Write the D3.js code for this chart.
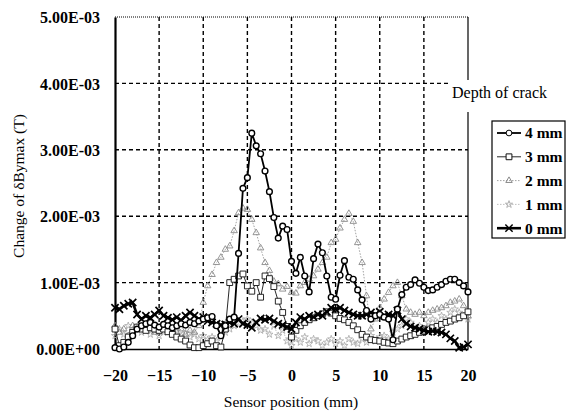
<!DOCTYPE html>
<html>
<head>
<meta charset="utf-8">
<script src="https://cdn.jsdelivr.net/npm/d3@7"></script>
<style>
  html, body { margin: 0; padding: 0; background: #fff; }
  svg { display: block; }
  text { font-family: "Liberation Serif", "DejaVu Serif", serif; fill: #000; }
</style>
</head>
<body>
<svg id="chart" width="566" height="417"></svg>
<script>
// Sensor positions, 0.5 mm steps from -20 to 20
const positions = d3.range(-20, 20.001, 0.5);

// Change of dBymax (units of 1E-3 T) for each crack depth
const depth4mm = [0.02,0.00,0.03,0.10,0.20,0.30,0.35,0.38,0.40,0.36,0.33,0.37,0.35,0.32,0.35,0.38,0.36,0.40,0.38,0.42,
  0.45,0.47,0.49,0.35,0.20,0.35,0.45,0.48,1.44,2.42,2.58,3.25,3.06,2.94,2.68,2.37,1.98,1.67,1.85,1.80,
  1.32,1.14,1.38,1.10,0.86,1.36,1.58,1.45,1.10,0.78,0.75,1.11,1.33,1.08,1.05,0.89,0.74,0.58,0.45,0.50,
  0.52,0.48,0.45,0.14,0.60,0.82,0.93,0.97,1.04,0.99,0.93,0.88,0.89,0.93,0.97,1.02,1.05,1.05,1.00,0.95,0.86];
const depth3mm = [0.30,0.05,0.10,0.18,0.25,0.33,0.30,0.28,0.32,0.30,0.28,0.30,0.26,0.22,0.18,0.15,0.12,0.06,0.02,0.02,
  0.05,0.08,0.12,0.05,0.03,0.30,1.00,1.05,1.10,1.13,0.95,0.87,1.00,0.78,1.10,1.06,0.94,0.72,0.55,0.34,
  0.18,0.28,0.35,0.40,0.44,0.47,0.50,0.53,0.56,0.54,0.50,0.46,0.44,0.40,0.35,0.29,0.22,0.18,0.14,0.13,
  0.12,0.10,0.09,0.08,0.12,0.15,0.18,0.20,0.22,0.25,0.27,0.30,0.32,0.34,0.37,0.40,0.42,0.45,0.47,0.50,0.56];
const depth2mm = [0.35,0.25,0.30,0.20,0.35,0.30,0.40,0.30,0.35,0.25,0.30,0.35,0.28,0.30,0.25,0.30,0.22,0.28,0.25,0.35,
  0.70,0.95,1.12,1.30,1.38,1.50,1.55,1.78,2.05,2.12,2.10,1.95,1.75,1.52,1.30,1.18,1.02,0.98,0.90,0.94,
  0.85,0.84,0.95,1.00,1.05,1.10,1.20,1.30,1.38,1.60,1.65,1.82,1.95,2.04,1.92,1.60,1.30,0.80,0.30,0.45,
  0.62,0.75,0.85,0.95,1.00,0.80,0.60,0.55,0.52,0.55,0.50,0.55,0.58,0.60,0.62,0.65,0.70,0.72,0.75,0.65,0.50];
const depth1mm = [0.20,0.30,0.22,0.35,0.28,0.33,0.25,0.30,0.22,0.28,0.20,0.25,0.30,0.22,0.27,0.20,0.24,0.18,0.22,0.15,
  0.20,0.14,0.18,0.12,0.20,0.25,0.30,0.35,0.38,0.42,0.45,0.40,0.35,0.28,0.30,0.22,0.35,0.20,0.28,0.12,
  0.05,0.15,0.10,0.18,0.08,0.15,0.12,0.05,0.10,0.15,0.08,0.12,0.05,0.15,0.10,0.08,0.15,0.10,0.20,0.12,
  0.18,0.20,0.15,0.25,0.30,0.35,0.45,0.40,0.30,0.35,0.30,0.40,0.45,0.40,0.50,0.45,0.55,0.60,0.55,0.50,0.45];
const depth0mm = [0.62,0.60,0.65,0.68,0.70,0.52,0.45,0.50,0.47,0.52,0.58,0.50,0.47,0.44,0.48,0.43,0.50,0.55,0.50,0.45,
  0.48,0.42,0.40,0.38,0.36,0.37,0.40,0.38,0.45,0.38,0.36,0.32,0.40,0.46,0.44,0.46,0.42,0.38,0.36,0.33,
  0.30,0.40,0.48,0.45,0.50,0.48,0.52,0.50,0.56,0.62,0.60,0.62,0.58,0.55,0.52,0.50,0.50,0.52,0.55,0.52,
  0.56,0.50,0.52,0.50,0.58,0.45,0.38,0.34,0.32,0.30,0.28,0.26,0.27,0.26,0.25,0.22,0.16,0.12,0.02,0.03,0.07];

const seriesNames = ["4 mm", "3 mm", "2 mm", "1 mm", "0 mm"];
const xTicks = [-20, -15, -10, -5, 0, 5, 10, 15, 20];
const yTicks = [0, 1, 2, 3, 4, 5];
const yTickLabels = ["0.00E+00", "1.00E-03", "2.00E-03", "3.00E-03", "4.00E-03", "5.00E-03"];

const series = [
  { name: seriesNames[0], values: depth4mm, color: "#000", width: 1.8, dash: null, marker: "circle" },
  { name: seriesNames[1], values: depth3mm, color: "#111", width: 0.9, dash: null, marker: "square" },
  { name: seriesNames[2], values: depth2mm, color: "#8a8a8a", width: 0.8, dash: "1.5,1.5", marker: "triangle" },
  { name: seriesNames[3], values: depth1mm, color: "#b0b0b0", width: 0.8, dash: "1.5,1.5", marker: "star" },
  { name: seriesNames[4], values: depth0mm, color: "#000", width: 2.6, dash: null, marker: "cross" }
];

const svg = d3.select("#chart");
const plot = { left: 115, right: 468, top: 17, bottom: 349 };

const x = d3.scaleLinear().domain([-20, 20]).range([plot.left, plot.right]);
const y = d3.scaleLinear().domain([0, 5]).range([plot.bottom, plot.top]);

// grid lines
const grid = svg.append("g");
grid.selectAll("line.v").data(xTicks.slice(1, -1)).enter().append("line")
  .attr("x1", d => x(d)).attr("x2", d => x(d))
  .attr("y1", plot.top).attr("y2", plot.bottom)
  .attr("stroke", "#000").attr("stroke-width", 1.4).attr("stroke-dasharray", "4,3");
grid.selectAll("line.h").data(yTicks.slice(1, -1)).enter().append("line")
  .attr("x1", plot.left).attr("x2", plot.right)
  .attr("y1", d => y(d)).attr("y2", d => y(d))
  .attr("stroke", "#000").attr("stroke-width", 1.4).attr("stroke-dasharray", "4,3");

// frame: dotted top, thin right, heavy left and bottom axes
svg.append("line").attr("x1", plot.left).attr("x2", plot.right).attr("y1", plot.top).attr("y2", plot.top)
  .attr("stroke", "#000").attr("stroke-width", 1).attr("stroke-dasharray", "1,1");
svg.append("line").attr("x1", plot.right).attr("x2", plot.right).attr("y1", plot.top).attr("y2", plot.bottom)
  .attr("stroke", "#000").attr("stroke-width", 1.2);

// y axis
const yAxis = d3.axisLeft(y).tickValues(yTicks).tickSize(0).tickPadding(15)
  .tickFormat((d, i) => yTickLabels[i]);
const gy = svg.append("g").attr("transform", `translate(${plot.left},0)`).call(yAxis);
gy.attr("font-family", null);
gy.select(".domain").attr("stroke", "#000").attr("stroke-width", 2.2);
gy.selectAll("text").style("font-family", "'Liberation Serif', serif").style("font-size", "16px")
  .style("font-weight", "bold").attr("dy", "0.35em");

// x axis
const xAxis = d3.axisBottom(x).tickValues(xTicks).tickSize(0).tickPadding(21);
const gx = svg.append("g").attr("transform", `translate(0,${plot.bottom})`).call(xAxis);
gx.attr("font-family", null);
gx.select(".domain").attr("stroke", "#000").attr("stroke-width", 1.6);
gx.selectAll("text").style("font-family", "'Liberation Serif', serif").style("font-size", "16px")
  .style("font-weight", "bold");

// marker shapes
const symbolFor = {
  circle: d3.symbol().type(d3.symbolCircle).size(26),
  square: d3.symbol().type(d3.symbolSquare).size(34),
  triangle: d3.symbol().type(d3.symbolTriangle).size(18),
  star: d3.symbol().type(d3.symbolStar).size(16),
  cross: d3.symbol().type(d3.symbolX).size(36)
};

const line = d3.line().x(d => x(d[0])).y(d => y(d[1]));

// draw light series first so darker ones sit on top
const drawOrder = [3, 2, 1, 4, 0];
drawOrder.forEach(si => {
  const s = series[si];
  const pts = positions.map((p, i) => [p, s.values[i]]);
  const g = svg.append("g");
  g.append("path").datum(pts).attr("d", line).attr("fill", "none")
    .attr("stroke", s.color).attr("stroke-width", s.width)
    .attr("stroke-dasharray", s.dash);
  const open = s.marker === "circle" || s.marker === "square";
  g.selectAll("path.m").data(pts).enter().append("path")
    .attr("transform", d => `translate(${x(d[0])},${y(d[1])})`)
    .attr("d", symbolFor[s.marker]())
    .attr("fill", open ? "#fff" : (s.marker === "cross" ? "#000" : "none"))
    .attr("stroke", s.color)
    .attr("stroke-width", s.marker === "cross" ? 1.7 : (s.marker === "circle" ? 1.4 : 0.9));
});

// axis titles
svg.append("text").attr("x", 291).attr("y", 407).attr("text-anchor", "middle")
  .style("font-size", "15.5px").text("Sensor position (mm)");
svg.append("text").attr("transform", "translate(24,186) rotate(-90)").attr("text-anchor", "middle")
  .style("font-size", "15.5px").text("Change of δBymax (T)");

// legend title with white backing
svg.append("rect").attr("x", 450).attr("y", 80).attr("width", 112).attr("height", 32).attr("fill", "#fff");
svg.append("text").attr("x", 452).attr("y", 98).style("font-size", "16px").text("Depth of crack");

// legend box
const lg = svg.append("g");
lg.append("rect").attr("x", 492).attr("y", 121).attr("width", 73).attr("height", 117)
  .attr("fill", "#fff").attr("stroke", "#000").attr("stroke-width", 1.2);
series.forEach((s, i) => {
  const cy = 133 + i * 23.8;
  lg.append("line").attr("x1", 497).attr("x2", 521).attr("y1", cy).attr("y2", cy)
    .attr("stroke", s.color).attr("stroke-width", s.width).attr("stroke-dasharray", s.dash);
  const open = s.marker === "circle" || s.marker === "square";
  lg.append("path").attr("transform", `translate(509,${cy})`).attr("d", symbolFor[s.marker]())
    .attr("fill", open ? "#fff" : (s.marker === "cross" ? "#000" : "none"))
    .attr("stroke", s.color).attr("stroke-width", s.marker === "cross" ? 1.5 : 1);
  lg.append("text").attr("x", 525).attr("y", cy).attr("dy", "0.35em")
    .style("font-size", "15.5px").style("font-weight", "bold").text(s.name);
});
</script>
</body>
</html>
